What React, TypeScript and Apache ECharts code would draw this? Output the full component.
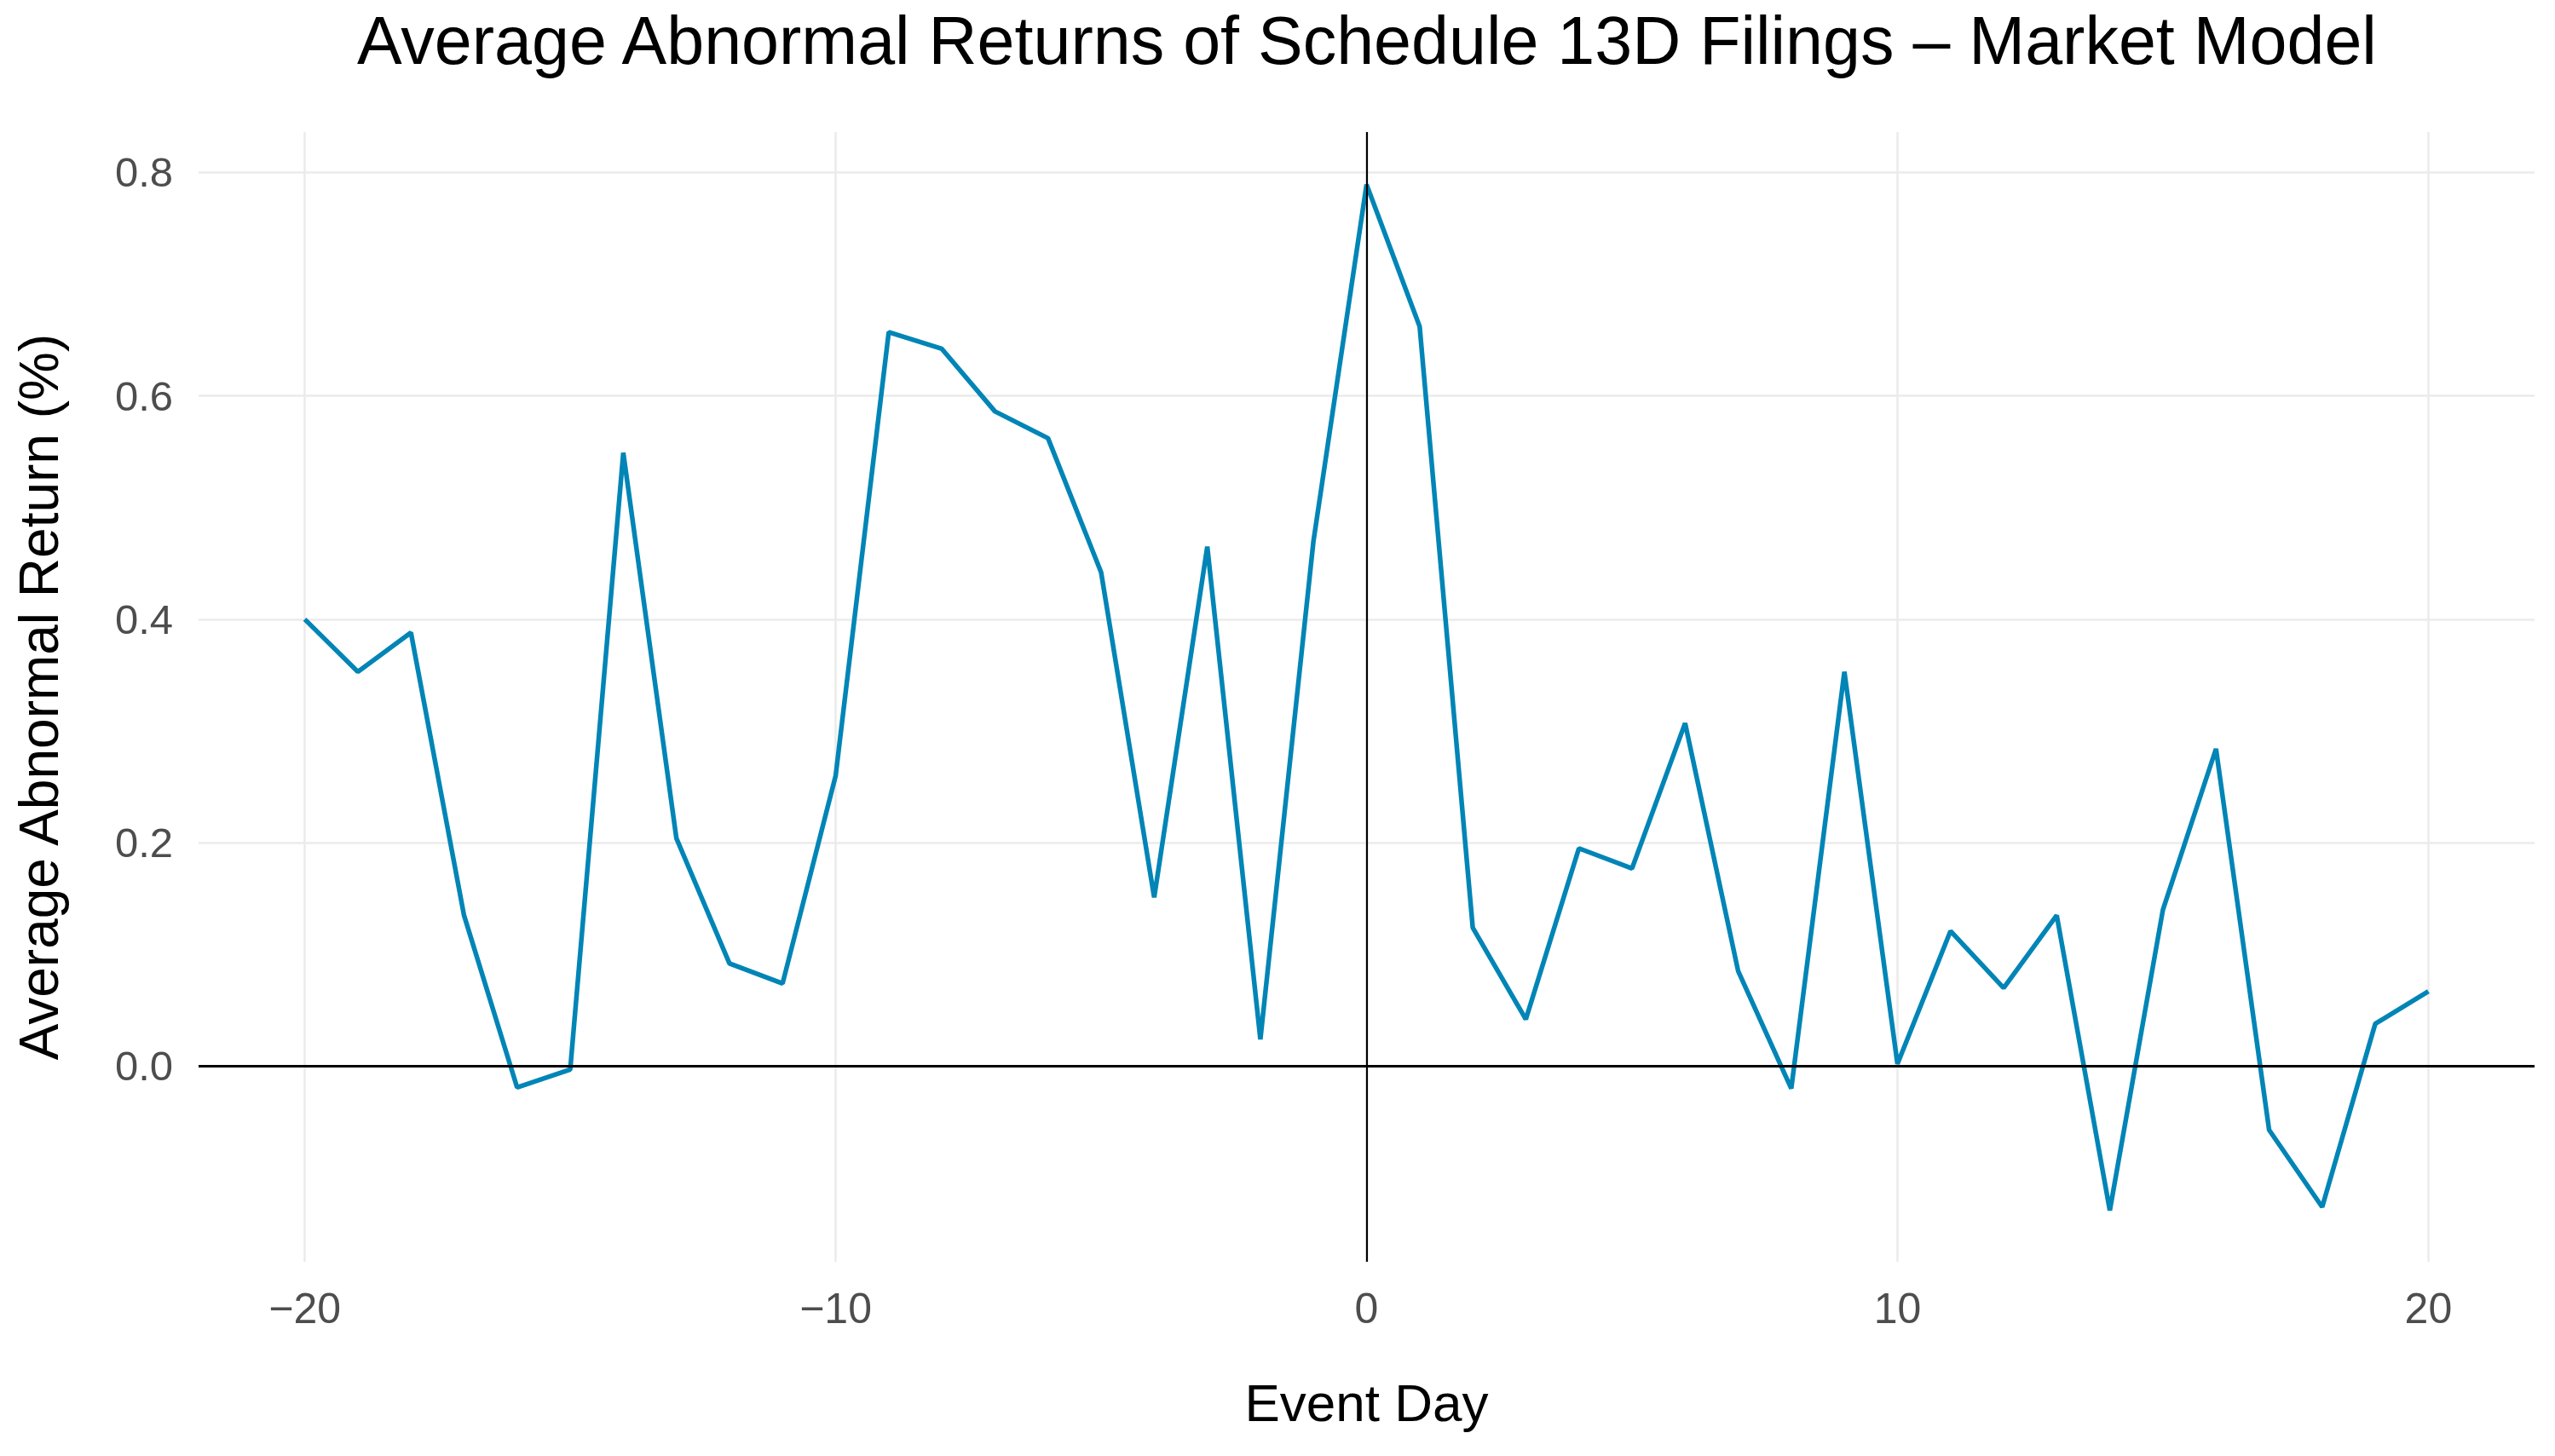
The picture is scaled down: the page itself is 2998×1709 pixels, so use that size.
import React, { useEffect, useRef } from "react";
import * as echarts from "echarts";

const chartTitle = "Average Abnormal Returns of Schedule 13D Filings \u2013 Market Model";
const xAxisTitle = "Event Day";
const yAxisTitle = "Average Abnormal Return (%)";

const eventDays = [
  -20, -19, -18, -17, -16, -15, -14, -13, -12, -11, -10, -9, -8, -7, -6, -5, -4, -3, -2, -1,
  0, 1, 2, 3, 4, 5, 6, 7, 8, 9, 10, 11, 12, 13, 14, 15, 16, 17, 18, 19, 20,
];

const abnormalReturns = [
  0.4, 0.353, 0.388, 0.135, -0.019, -0.003, 0.549, 0.204, 0.092, 0.074, 0.26, 0.657, 0.642, 0.586,
  0.562, 0.442, 0.151, 0.465, 0.024, 0.47, 0.789, 0.662, 0.124, 0.042, 0.195, 0.177, 0.307, 0.085,
  -0.02, 0.353, 0.002, 0.121, 0.07, 0.135, -0.129, 0.14, 0.284, -0.057, -0.126, 0.038, 0.067,
];

const xRange = [-22, 22];
const yRange = [-0.175, 0.836];

const FONT = "'Liberation Sans', Arial, Helvetica, sans-serif";

export default function App() {
  const ref = useRef<HTMLDivElement>(null);

  useEffect(() => {
    document.body.style.margin = "0";
    if (!ref.current) return;
    const chart = echarts.init(ref.current, undefined, { renderer: "svg" });
    const data = eventDays.map((d, i) => [d, abnormalReturns[i]]);
    chart.setOption({
      animation: false,
      backgroundColor: "#ffffff",
      textStyle: { fontFamily: FONT },
      grid: { left: 233, right: 24, top: 155, bottom: 228, containLabel: false },
      graphic: [
        {
          type: "text",
          x: 1604,
          y: 8,
          style: {
            text: chartTitle,
            fontFamily: FONT,
            fontSize: 79,
            fill: "#000000",
            textAlign: "center",
            textVerticalAlign: "top",
          },
        },
      ],
      xAxis: {
        type: "value",
        min: xRange[0],
        max: xRange[1],
        splitNumber: 4,
        minInterval: 10,
        maxInterval: 10,
        name: xAxisTitle,
        nameLocation: "middle",
        nameGap: 134,
        nameTextStyle: { fontSize: 62, color: "#000000", fontFamily: FONT },
        axisLine: { show: false },
        axisTick: { show: false },
        axisLabel: {
          showMinLabel: false,
          showMaxLabel: false,
          fontSize: 50,
          color: "#4D4D4D",
          margin: 30,
          fontFamily: FONT,
          formatter: (v: number) => (v < 0 ? "\u2212" + Math.abs(v) : String(v)),
        },
        splitLine: {
          show: true,
          showMinLine: false,
          showMaxLine: false,
          lineStyle: { color: "#EBEBEB", width: 2.5 },
        },
      },
      yAxis: {
        type: "value",
        min: yRange[0],
        max: yRange[1],
        splitNumber: 5,
        minInterval: 0.2,
        maxInterval: 0.2,
        name: yAxisTitle,
        nameLocation: "middle",
        nameRotate: 90,
        nameGap: 155,
        nameTextStyle: { fontSize: 64, color: "#000000", fontFamily: FONT },
        axisLine: { show: false },
        axisTick: { show: false },
        axisLabel: {
          showMinLabel: false,
          showMaxLabel: false,
          fontSize: 49,
          color: "#4D4D4D",
          margin: 30,
          fontFamily: FONT,
          formatter: (v: number) => v.toFixed(1),
        },
        splitLine: {
          show: true,
          showMinLine: false,
          showMaxLine: false,
          lineStyle: { color: "#EBEBEB", width: 2.5 },
        },
      },
      series: [
        {
          type: "line",
          data,
          showSymbol: false,
          symbol: "none",
          lineStyle: { color: "#0085B6", width: 5.5 },
          z: 2,
          markLine: {
            silent: true,
            symbol: ["none", "none"],
            label: { show: false },
            z: 5,
            data: [
              { yAxis: 0, lineStyle: { color: "#000000", width: 3, type: "solid" } },
              { xAxis: 0, lineStyle: { color: "#000000", width: 2.2, type: "solid" } },
            ],
          },
        },
      ],
    });
    return () => chart.dispose();
  }, []);

  return <div ref={ref} style={{ width: 2998, height: 1709 }} />;
}
